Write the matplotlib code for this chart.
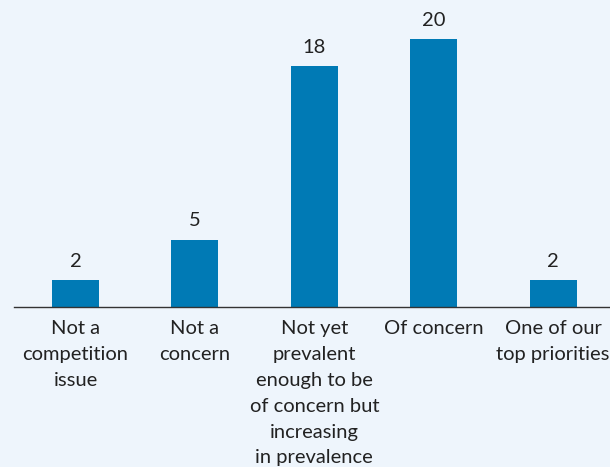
import matplotlib.pyplot as plt

categories = [
    'Not a\ncompetition\nissue',
    'Not a\nconcern',
    'Not yet\nprevalent\nenough to be\nof concern but\nincreasing\nin prevalence',
    'Of concern',
    'One of our\ntop priorities',
]
values = [2, 5, 18, 20, 2]

bg = '#EEF5FC'
bar_color = '#007AB5'
text_color = '#222222'

plt.rcParams['font.family'] = ['Lato', 'DejaVu Sans']

fig = plt.figure(figsize=(6.10, 4.67), dpi=100, facecolor=bg)
ax = fig.add_axes([14 / 610, (467 - 306.5) / 467, 596 / 610, 306.5 / 467])
ax.set_facecolor(bg)

x = list(range(len(values)))
ax.bar(x, values, width=0.394, color=bar_color, zorder=2)

for xi, v in zip(x, values):
    ax.annotate(str(v), (xi, v), xytext=(0, 13.5), textcoords='offset points',
                ha='center', va='center', fontsize=14.5, color=text_color)

# category labels under the baseline
for xi, lab in zip(x, categories):
    ax.annotate(lab, (xi, 0), xycoords=('data', 'axes fraction'),
                xytext=(0, -10), textcoords='offset points',
                ha='center', va='top', multialignment='center',
                fontsize=14.5, color=text_color, linespacing=1.63,
                annotation_clip=False)

ax.set_xlim(-0.515, 4.477)
ax.set_ylim(0, 306.5 / 13.37)

ax.set_xticks([])
ax.set_yticks([])

for side in ['top', 'right', 'left']:
    ax.spines[side].set_visible(False)
ax.spines['bottom'].set_color('#333333')
ax.spines['bottom'].set_linewidth(1)

fig.savefig('out.png', dpi=100, facecolor=bg)
